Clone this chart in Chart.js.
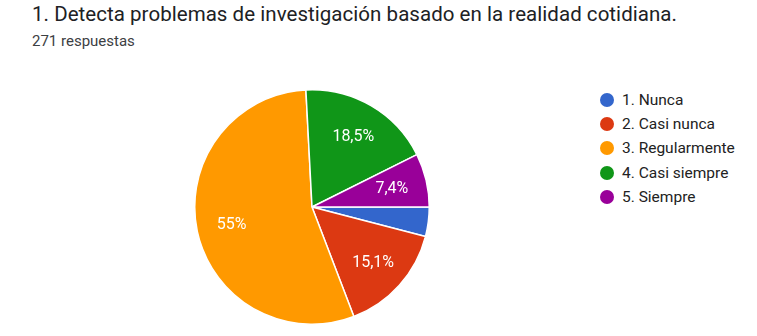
<!DOCTYPE html>
<html>
<head>
<meta charset="utf-8">
<script src="https://cdn.jsdelivr.net/npm/chart.js"></script>
<style>
  html, body { margin: 0; padding: 0; background: #fff; }
  body { width: 757px; height: 336px; position: relative; overflow: hidden; font-family: Roboto, Arial, sans-serif; }
  #title { position: absolute; left: 32px; top: 2px; font-size: 20.5px; color: #202124; white-space: nowrap; }
  #subtitle { position: absolute; left: 32px; top: 32px; font-size: 15px; color: #3c4043; white-space: nowrap; }
  #pieWrap { position: absolute; left: 194px; top: 89px; width: 236px; height: 236px; }
  #legend { position: absolute; left: 600px; top: 88px; }
  .item { height: 24.2px; display: flex; align-items: center; font-size: 15.5px; color: #222; }
  .dot { width: 14px; height: 14px; border-radius: 50%; margin-right: 8px; }
</style>
</head>
<body>
<div id="title">1. Detecta problemas de investigación basado en la realidad cotidiana.</div>
<div id="subtitle">271 respuestas</div>
<div id="pieWrap"><canvas id="pie"></canvas></div>
<div id="legend"></div>
<script>
// answers (271 respuestas)
const categories = ['1. Nunca', '2. Casi nunca', '3. Regularmente', '4. Casi siempre', '5. Siempre'];
const counts = [11, 41, 149, 50, 20];
const colors = ['#3366cc', '#dc3912', '#ff9900', '#109618', '#990099'];

const total = counts.reduce((a, b) => a + b, 0);

// fit the title to the width it has in the picture
const titleEl = document.getElementById('title');
const wantW = 645;
titleEl.style.letterSpacing = ((wantW - titleEl.getBoundingClientRect().width) / titleEl.textContent.length) + 'px';

// legend
const legendEl = document.getElementById('legend');
legendEl.innerHTML = categories.map((c, i) => `
  <div class="item"><span class="dot" style="background:${colors[i]}"></span>${c}</div>
`).join('');

function pctText(v) {
  const p = Math.round(v / total * 1000) / 10;
  return String(p).replace('.', ',') + '%';
}

// draw percentage labels inside the slices
const sliceLabels = {
  id: 'sliceLabels',
  afterDatasetsDraw(chart) {
    const ctx = chart.ctx;
    const meta = chart.getDatasetMeta(0);
    ctx.save();
    ctx.fillStyle = '#fff';
    ctx.font = '16px Roboto, Arial, sans-serif';
    ctx.textAlign = 'center';
    ctx.textBaseline = 'middle';
    meta.data.forEach((arc, i) => {
      const v = counts[i];
      if (v / total < 0.05) return;
      const { x, y, startAngle, endAngle, outerRadius } = arc.getProps(['x', 'y', 'startAngle', 'endAngle', 'outerRadius'], true);
      const mid = (startAngle + endAngle) / 2;
      const r = outerRadius * 0.7;
      ctx.fillText(pctText(v), x + Math.cos(mid) * r, y + Math.sin(mid) * r + 1);
    });
    ctx.restore();
  }
};

new Chart(document.getElementById('pie'), {
  type: 'pie',
  data: {
    labels: categories,
    datasets: [{
      data: counts,
      backgroundColor: colors,
      borderColor: '#fff',
      borderWidth: 1.5
    }]
  },
  options: {
    responsive: true,
    maintainAspectRatio: false,
    animation: false,
    rotation: 90,
    plugins: {
      legend: { display: false },
      tooltip: { enabled: false }
    }
  },
  plugins: [sliceLabels]
});
</script>
</body>
</html>
